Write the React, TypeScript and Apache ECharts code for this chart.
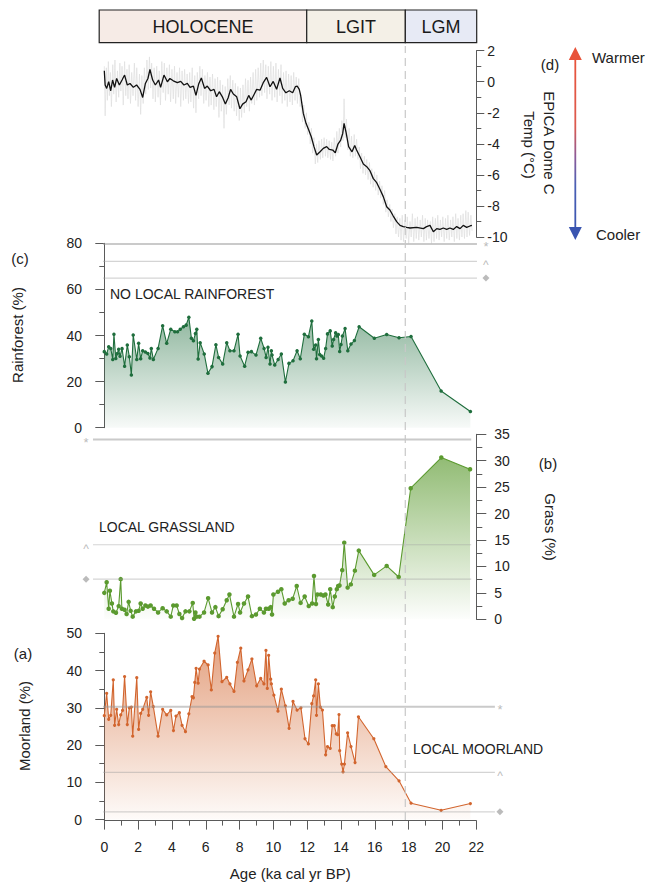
import React, { useEffect, useRef } from 'react';
import * as echarts from 'echarts';

const FONT = "'Liberation Sans', Arial, Helvetica, sans-serif";

// ---- Epoch bar ----
const epochNames = ['HOLOCENE', 'LGIT', 'LGM'];
const epochBounds = [-0.3, 11.97, 17.8, 22.02];
const epochColors = ['#f6ebe6', '#f4f0e7', '#e7eaf5'];
const lgmBoundary = 17.8;

// ---- (d) EPICA Dome C temperature: smoothed curve [age ka, °C] ----
const epicaSmooth: [number, number][] = [
  [0.0, 0.71], [0.05, -0.21], [0.14, -0.43], [0.26, 0], [0.38, -0.58], [0.49, 0.11], [0.61, -0.36], [0.73, 0.21],
  [0.89, -0.21], [1.05, 0.11], [1.2, 0.43], [1.36, -0.21], [1.52, -0.11], [1.72, -0.36], [1.91, -0.21], [2.11, -0.49],
  [2.27, -1.01], [2.43, -0.11], [2.58, 0.21], [2.7, 0.79], [2.86, 0.11], [3.02, -0.21], [3.21, 0.11], [3.33, -0.36],
  [3.53, 0.43], [3.73, 0], [3.88, 0.21], [4.08, 0.06], [4.32, -0.06], [4.52, 0.02], [4.71, -0.21], [4.91, -0.11],
  [5.07, -0.36], [5.27, -0.28], [5.42, -0.88], [5.58, -0.15], [5.74, 0.24], [5.93, -0.43], [6.09, -0.28], [6.29, -0.58],
  [6.49, -0.49], [6.64, -0.97], [6.8, -0.64], [7.0, -1.01], [7.16, -1.44], [7.32, -1.05], [7.47, -0.49], [7.63, -0.79],
  [7.83, -0.97], [8.02, -1.74], [8.18, -1.44], [8.38, -1.29], [8.54, -0.88], [8.69, -1.18], [8.85, -0.84], [9.01, -0.49],
  [9.21, -0.54], [9.4, -0.06], [9.6, 0.28], [9.8, -0.32], [9.99, 0.02], [10.19, -0.49], [10.39, 0.24], [10.55, -0.43],
  [10.74, -0.71], [10.94, -0.58], [11.14, -0.71], [11.3, -0.32], [11.41, -0.28], [11.53, -0.49], [11.61, -0.86],
  [11.77, -2.04], [11.93, -2.68], [12.09, -3.11], [12.24, -3.54], [12.4, -4.18], [12.56, -4.72], [12.76, -4.51],
  [12.95, -4.29], [13.15, -4.18], [13.31, -4.36], [13.51, -4.4], [13.66, -4.57], [13.82, -4.01], [13.98, -3.76],
  [14.1, -3.33], [14.18, -2.68], [14.29, -3.22], [14.45, -4.18], [14.65, -4.51], [14.81, -4.1], [14.92, -4.4],
  [15.12, -4.83], [15.32, -5.3], [15.52, -5.47], [15.71, -5.73], [15.91, -6.24], [16.11, -6.5], [16.3, -6.93],
  [16.5, -7.4], [16.7, -8.05], [16.89, -8.26], [17.09, -8.65], [17.29, -9.01], [17.49, -9.25], [17.68, -9.33],
  [17.88, -9.38], [18.08, -9.42], [18.47, -9.38], [18.87, -9.46], [19.06, -9.33], [19.26, -9.25], [19.46, -9.66],
  [19.66, -9.46], [19.85, -9.51], [20.05, -9.42], [20.25, -9.51], [20.44, -9.42], [20.64, -9.51], [20.84, -9.33],
  [21.04, -9.46], [21.23, -9.25], [21.43, -9.38], [21.63, -9.29], [21.74, -9.25],
];

// ---- (d) EPICA raw (grey, high frequency) [age ka, °C] ----
const epicaRaw: [number, number][] = [
  [0.0, 1.0], [0.05, -2.2], [0.12, 0.9], [0.18, -1.2], [0.24, 1.3], [0.3, -0.9], [0.36, 0.6], [0.42, -1.6], [0.5, 1.1], [0.56, -0.8],
  [0.63, 1.4], [0.7, -1.3], [0.78, 0.7], [0.85, -1.0], [0.92, 1.2], [0.98, -0.6], [1.05, 1.0], [1.12, -1.5], [1.2, 1.3], [1.27, -0.9],
  [1.34, 0.8], [1.4, -1.1], [1.47, 1.1], [1.55, -1.4], [1.62, 0.6], [1.7, -0.9], [1.78, 1.2], [1.85, -1.2], [1.92, 0.9], [2.0, -1.6],
  [2.08, 0.5], [2.15, -2.1], [2.22, 0.4], [2.3, -1.4], [2.37, 0.9], [2.45, -0.8], [2.52, 1.4], [2.6, -0.5], [2.67, 1.6], [2.74, -0.4],
  [2.8, 1.2], [2.88, -1.1], [2.95, 0.9], [3.02, -1.3], [3.1, 1.0], [3.18, -1.0], [3.25, 0.7], [3.32, -1.5], [3.4, 1.3], [3.48, -0.7],
  [3.55, 1.2], [3.62, -1.2], [3.7, 0.9], [3.78, -0.8], [3.85, 1.1], [3.92, -1.3], [4.0, 0.8], [4.08, -1.1], [4.15, 1.0], [4.22, -1.4],
  [4.3, 0.6], [4.38, -1.0], [4.45, 0.9], [4.52, -1.6], [4.6, 0.7], [4.68, -1.2], [4.75, 0.8], [4.82, -1.1], [4.9, 0.5], [4.98, -1.4],
  [5.05, 0.6], [5.12, -1.3], [5.2, 0.9], [5.28, -1.7], [5.35, 0.4], [5.42, -2.0], [5.5, 0.6], [5.58, -1.1], [5.65, 1.0], [5.72, -0.9],
  [5.8, 0.8], [5.88, -1.4], [5.95, 0.4], [6.02, -1.2], [6.1, 0.6], [6.18, -1.6], [6.25, 0.3], [6.32, -1.5], [6.4, 0.5], [6.48, -1.8],
  [6.55, 0.2], [6.62, -1.6], [6.7, 0.3], [6.78, -2.3], [6.85, 0.1], [6.92, -1.9], [7.0, -0.2], [7.08, -3.0], [7.15, -0.3], [7.22, -2.1],
  [7.3, 0.2], [7.38, -1.5], [7.45, 0.4], [7.52, -1.7], [7.6, 0.1], [7.68, -1.9], [7.75, -0.1], [7.82, -2.2], [7.9, -0.3], [7.98, -2.5],
  [8.05, -0.4], [8.12, -2.3], [8.2, -0.2], [8.28, -2.0], [8.35, 0.2], [8.42, -1.6], [8.5, 0.1], [8.58, -1.9], [8.65, 0.3], [8.72, -1.4],
  [8.8, 0.6], [8.88, -1.5], [8.95, 0.8], [9.02, -1.2], [9.1, 0.9], [9.18, -1.0], [9.25, 1.2], [9.32, -0.9], [9.4, 1.4], [9.48, -0.7],
  [9.55, 1.1], [9.62, -1.1], [9.7, 1.0], [9.78, -0.8], [9.85, 1.3], [9.92, -1.2], [10.0, 1.0], [10.08, -1.0], [10.15, 1.2], [10.22, -1.3],
  [10.3, 0.8], [10.38, -0.9], [10.45, 1.1], [10.52, -1.4], [10.6, 0.6], [10.68, -1.2], [10.75, 0.7], [10.82, -1.6], [10.9, 0.5], [10.98, -1.3],
  [11.05, 0.4], [11.12, -1.5], [11.2, 0.6], [11.28, -1.2], [11.35, 0.3], [11.42, -1.4], [11.5, 0.2], [11.58, -1.6],
  [11.65, -1.0], [11.72, -2.6], [11.8, -1.5], [11.88, -3.0], [11.95, -2.0], [12.02, -3.4], [12.1, -2.6], [12.18, -4.0], [12.25, -3.0], [12.32, -4.6],
  [12.4, -3.6], [12.48, -5.3], [12.55, -4.0], [12.62, -5.2], [12.7, -3.8], [12.78, -5.0], [12.85, -3.7], [12.92, -4.9], [13.0, -3.6], [13.08, -4.8],
  [13.15, -3.7], [13.22, -4.9], [13.3, -3.8], [13.38, -5.0], [13.45, -3.9], [13.52, -5.1], [13.6, -3.6], [13.68, -4.8], [13.75, -3.2], [13.82, -4.6],
  [13.9, -3.0], [13.98, -4.2], [14.05, -2.5], [14.12, -3.8], [14.18, -1.1], [14.25, -3.6], [14.32, -2.4], [14.4, -4.4], [14.48, -3.0], [14.55, -4.8],
  [14.62, -3.5], [14.7, -4.9], [14.78, -3.4], [14.85, -4.8], [14.92, -3.7], [15.0, -5.0], [15.08, -4.2], [15.15, -5.6], [15.22, -4.6], [15.3, -5.9],
  [15.38, -4.8], [15.45, -6.0], [15.52, -5.0], [15.6, -6.3], [15.68, -5.2], [15.75, -6.6], [15.82, -5.6], [15.9, -6.8], [15.98, -5.8], [16.05, -7.0],
  [16.12, -6.0], [16.2, -7.3], [16.28, -6.4], [16.35, -7.5], [16.42, -6.7], [16.5, -7.9], [16.58, -7.0], [16.65, -8.4], [16.72, -7.6], [16.8, -8.7],
  [16.88, -7.9], [16.95, -9.0], [17.02, -8.2], [17.1, -9.4], [17.18, -8.5], [17.25, -9.8], [17.32, -8.7], [17.4, -10.0],
  [17.48, -8.8], [17.55, -10.2], [17.62, -8.6], [17.7, -10.3], [17.78, -8.9], [17.85, -10.1], [17.92, -8.7], [18.0, -10.4], [18.08, -9.0], [18.15, -10.0],
  [18.22, -8.5], [18.3, -10.3], [18.38, -8.8], [18.45, -10.1], [18.52, -8.7], [18.6, -10.2], [18.68, -8.9], [18.75, -10.0], [18.82, -8.6], [18.9, -10.3],
  [18.98, -8.8], [19.05, -10.2], [19.12, -8.9], [19.2, -10.1], [19.28, -9.0], [19.35, -10.4], [19.42, -8.7], [19.5, -10.3], [19.58, -8.8], [19.65, -10.1],
  [19.72, -8.6], [19.8, -10.2], [19.88, -8.9], [19.95, -10.0], [20.02, -8.7], [20.1, -10.3], [20.18, -8.8], [20.25, -10.1], [20.32, -8.6], [20.4, -10.2],
  [20.48, -8.9], [20.55, -10.0], [20.62, -8.7], [20.7, -10.3], [20.78, -8.5], [20.85, -10.1], [20.92, -8.8], [21.0, -10.2], [21.08, -8.6], [21.15, -10.0],
  [21.22, -8.5], [21.3, -10.1], [21.38, -8.3], [21.45, -10.0], [21.52, -8.4], [21.6, -9.9], [21.68, -8.6], [21.75, -9.6],
];

// ---- (c) Rainforest % ----
const rainforest: [number, number][] = [
  [0.0, 33.0], [0.14, 32.0], [0.26, 35.1], [0.38, 34.4], [0.5, 29.6], [0.57, 40.5], [0.68, 30.0], [0.77, 32.2], [0.85, 34.0], [0.93, 31.0],
  [1.05, 34.3], [1.2, 26.7], [1.36, 35.9], [1.48, 30.8], [1.6, 22.9], [1.71, 40.2], [1.92, 29.6], [2.03, 36.6], [2.15, 29.9], [2.27, 33.4],
  [2.43, 32.8], [2.58, 32.2], [2.7, 30.2], [2.78, 34.4], [2.9, 29.6], [3.18, 34.4], [3.45, 44.2], [3.69, 36.6], [3.93, 42.7], [4.17, 41.6],
  [4.33, 41.6], [4.49, 42.7], [4.68, 43.8], [4.84, 44.5], [5.0, 47.9], [5.15, 38.8], [5.27, 37.7], [5.39, 40.9], [5.47, 42.7], [5.55, 29.8],
  [5.67, 36.9], [5.91, 32.0], [6.13, 23.6], [6.37, 26.5], [6.6, 36.0], [6.76, 30.5], [7.0, 27.6], [7.24, 36.9], [7.43, 33.4], [7.67, 33.4],
  [7.91, 40.5], [8.03, 31.1], [8.3, 26.7], [8.5, 32.7], [8.7, 33.0], [8.97, 31.5], [9.25, 38.8], [9.45, 34.4], [9.57, 30.5], [9.68, 34.9],
  [9.8, 27.6], [9.88, 33.4], [9.92, 31.5], [10.08, 27.2], [10.28, 29.6], [10.47, 32.0], [10.71, 19.8], [10.92, 27.9], [11.16, 29.0], [11.4, 33.4],
  [11.59, 29.9], [11.83, 40.5], [12.07, 39.5], [12.27, 46.3], [12.38, 34.0], [12.5, 35.9], [12.55, 29.9], [12.66, 38.3], [12.74, 31.8], [12.85, 31.1],
  [12.97, 30.1], [13.09, 34.4], [13.2, 40.7], [13.36, 42.0], [13.48, 35.4], [13.56, 38.3], [13.68, 41.2], [13.76, 39.8], [13.84, 40.4], [13.92, 33.1],
  [14.0, 36.1], [14.08, 39.8], [14.24, 43.0], [14.4, 33.4], [14.59, 36.3], [14.79, 37.8], [15.07, 43.8], [15.97, 38.8], [16.7, 40.4], [17.43, 39.0],
  [18.14, 39.6], [19.92, 15.9], [21.65, 7.0],
];

// ---- (b) Grass % ----
const grass: [number, number][] = [
  [0.0, 5.0], [0.14, 7.0], [0.26, 2.0], [0.33, 5.4], [0.45, 3.0], [0.53, 1.5], [0.69, 1.25], [0.85, 2.5], [0.97, 7.6], [1.04, 2.0],
  [1.2, 1.8], [1.32, 1.0], [1.44, 3.3], [1.56, 1.6], [1.68, 0.5], [1.87, 1.5], [2.03, 1.6], [2.15, 3.0], [2.27, 2.0], [2.43, 2.6],
  [2.58, 2.4], [2.74, 2.6], [2.94, 2.0], [3.18, 1.3], [3.45, 2.1], [3.69, 1.5], [3.93, 0.5], [4.08, 2.6], [4.28, 2.6], [4.44, 1.0],
  [4.6, 0.25], [4.8, 1.5], [5.03, 1.5], [5.23, 3.1], [5.31, 0.1], [5.39, 1.3], [5.47, 0.5], [5.63, 0.5], [5.9, 1.3], [6.14, 4.0],
  [6.37, 1.3], [6.57, 2.3], [6.76, 0.6], [7.0, 1.9], [7.24, 3.6], [7.4, 4.7], [7.67, 0.5], [7.91, 2.9], [8.03, 1.3], [8.26, 3.0],
  [8.5, 4.3], [8.73, 0.6], [8.97, 0.9], [9.2, 2.0], [9.44, 1.3], [9.56, 2.0], [9.72, 2.0], [9.84, 2.3], [9.92, 0.9], [10.0, 4.7],
  [10.27, 5.2], [10.47, 5.7], [10.67, 3.0], [10.9, 3.6], [11.14, 3.9], [11.38, 6.3], [11.61, 3.1], [11.85, 4.3], [12.09, 2.5], [12.29, 3.0],
  [12.4, 8.2], [12.52, 2.9], [12.6, 4.7], [12.8, 4.7], [12.96, 4.5], [13.08, 4.7], [13.24, 2.8], [13.36, 5.7], [13.51, 2.3], [13.63, 4.3],
  [13.75, 5.7], [13.83, 6.3], [13.91, 6.4], [14.07, 9.3], [14.19, 14.5], [14.39, 6.0], [14.58, 6.6], [14.82, 9.2], [15.05, 13.0], [15.96, 8.4],
  [16.7, 10.1], [17.41, 8.0], [18.12, 24.8], [19.93, 30.6], [21.63, 28.4],
];

// ---- (a) Moorland % ----
const moorland: [number, number][] = [
  [0.0, 27.9], [0.14, 33.9], [0.26, 26.9], [0.38, 28.0], [0.53, 37.5], [0.61, 25.3], [0.73, 29.6], [0.85, 25.5], [0.97, 28.1], [1.08, 29.3],
  [1.2, 38.4], [1.36, 25.5], [1.48, 30.0], [1.6, 30.2], [1.68, 22.4], [1.92, 38.1], [2.03, 24.2], [2.15, 28.5], [2.27, 29.6], [2.51, 32.8],
  [2.62, 28.0], [2.74, 34.3], [2.9, 30.3], [3.18, 22.4], [3.45, 29.6], [3.69, 28.1], [3.93, 29.3], [4.09, 23.9], [4.24, 27.8], [4.44, 28.7],
  [4.6, 25.3], [4.8, 23.6], [5.0, 28.4], [5.19, 33.0], [5.27, 32.7], [5.35, 36.8], [5.43, 40.6], [5.55, 36.6], [5.63, 40.4], [5.9, 42.5],
  [6.14, 41.5], [6.33, 34.8], [6.53, 44.7], [6.73, 49.2], [6.96, 37.0], [7.24, 38.2], [7.43, 36.4], [7.67, 34.4], [7.87, 42.2], [8.07, 46.0],
  [8.26, 37.2], [8.5, 40.2], [8.73, 43.1], [9.01, 35.9], [9.25, 37.9], [9.44, 36.4], [9.56, 45.4], [9.64, 35.2], [9.72, 44.1], [9.84, 37.7],
  [9.88, 36.4], [10.03, 33.4], [10.27, 29.1], [10.47, 35.0], [10.71, 30.5], [10.93, 24.5], [11.16, 31.7], [11.4, 29.4], [11.63, 30.0], [11.87, 21.7],
  [12.07, 20.3], [12.27, 31.1], [12.38, 33.2], [12.5, 37.5], [12.55, 28.0], [12.66, 36.4], [12.78, 30.2], [12.9, 29.4], [13.09, 17.4], [13.2, 19.6],
  [13.36, 19.1], [13.48, 25.2], [13.6, 25.2], [13.72, 23.0], [13.8, 22.8], [13.88, 28.2], [13.92, 18.5], [14.04, 14.9], [14.12, 12.8], [14.2, 14.9],
  [14.39, 23.3], [14.59, 19.6], [14.83, 15.3], [15.03, 27.6], [15.94, 21.7], [16.65, 14.2], [17.43, 10.4], [18.14, 4.4], [19.92, 2.5], [21.65, 4.3],
];

// ---- Reference threshold lines (grey) ----
const refGlyphs = ['*', '^', '♦'];
const rainRefValues = [79.7, 72.2, 64.9];
const rainRefSpan = [-0.08, 22.04];
const rainRefMarkerAge = 22.57;
const grassRefValues = [34.0, 14.1, 7.6];
const grassRefSpan = [-0.67, 21.7];
const grassRefMarkerAge = -1.08;
const moorRefValues = [30.3, 12.7, 2.1];
const moorRefSpan = [-0.08, 23.1];
const moorRefMarkerAge = 23.4;

// ---- Axes ----
const ageMin = 0, ageMax = 22, ageStep = 2;
const tempMin = -10, tempMax = 2, tempStep = 2;
const rainMax = 80, rainStep = 20;
const grassMax = 35, grassStep = 5;
const moorMax = 50, moorStep = 10;

const AXIS_COLOR = '#5a5a5a';
const LABEL_COLOR = '#222';

function refSeries(axisIdx: number, values: number[], span: number[], markerAge: number): any[] {
  const out: any[] = values.map((v, i) => ({
    type: 'line',
    xAxisIndex: axisIdx,
    yAxisIndex: axisIdx,
    data: [[span[0], v], [span[1], v]],
    symbol: 'none',
    silent: true,
    z: 6,
    lineStyle: {
      color: i === 0 ? 'rgba(150,150,150,0.5)' : 'rgba(160,160,160,0.45)',
      width: i === 0 ? 2 : 1.2,
    },
  }));
  out.push({
    type: 'scatter',
    xAxisIndex: axisIdx,
    yAxisIndex: axisIdx,
    silent: true,
    z: 7,
    data: values.map((v, i) => ({
      value: [markerAge, v],
      symbol: i === 2 ? 'diamond' : 'circle',
      symbolSize: i === 2 ? 7 : 1,
      itemStyle: { color: i === 2 ? '#aaaaaa' : 'rgba(0,0,0,0)' },
      label: {
        show: i !== 2,
        formatter: refGlyphs[i],
        position: 'inside',
        color: '#aaaaaa',
        fontSize: i === 0 ? 13 : 12,
        fontFamily: FONT,
        offset: [0, i === 0 ? 3 : 4],
      },
    })),
  });
  return out;
}

function leftYAxis(gi: number, max: number, step: number) {
  return {
    type: 'value', gridIndex: gi, position: 'left', offset: 4.3, min: 0, max, interval: step,
    axisLine: { show: true, lineStyle: { color: AXIS_COLOR, width: 1 } },
    axisTick: { show: true, length: 9, inside: false, lineStyle: { color: AXIS_COLOR } },
    minorTick: { show: true, splitNumber: 2, length: 5, lineStyle: { color: AXIS_COLOR } },
    axisLabel: { show: true, margin: 18, fontSize: 14, color: LABEL_COLOR, fontFamily: FONT },
    splitLine: { show: false },
    minorSplitLine: { show: false },
  };
}

function rightYAxis(gi: number, min: number, max: number, step: number, margin: number, tickLen: number) {
  return {
    type: 'value', gridIndex: gi, position: 'right', offset: 0, min, max, interval: step,
    axisLine: { show: true, onZero: false, lineStyle: { color: AXIS_COLOR, width: 1 } },
    axisTick: { show: true, length: tickLen, inside: false, lineStyle: { color: AXIS_COLOR } },
    minorTick: { show: true, splitNumber: 2, length: Math.round(tickLen * 0.6), lineStyle: { color: AXIS_COLOR } },
    axisLabel: { show: true, margin, fontSize: 14, color: LABEL_COLOR, fontFamily: FONT },
    splitLine: { show: false },
    minorSplitLine: { show: false },
  };
}

function hiddenAxis(gi: number, min: number, max: number) {
  return { type: 'value', gridIndex: gi, min, max, show: false, splitLine: { show: false } };
}

function grad(r: number, g: number, b: number, a0: number, a1: number) {
  return new echarts.graphic.LinearGradient(0, 0, 0, 1, [
    { offset: 0, color: `rgba(${r},${g},${b},${a0})` },
    { offset: 1, color: `rgba(${r},${g},${b},${a1})` },
  ]);
}

function buildOption(): any {
  const MAIN_L = 104.3, MAIN_R = 169.7;
  const OV_L = 70.5, OV_R = 135.9;
  const grids = [
    { left: 99.2, right: 169.3, top: 10, height: 32.7 },      // 0 epoch bar
    { left: MAIN_L, right: MAIN_R, top: 50.7, height: 186.3 }, // 1 (d)
    { left: MAIN_L, right: MAIN_R, top: 243.3, height: 184.4 },// 2 (c)
    { left: OV_L, right: OV_R, top: 243.3, height: 184.4 },    // 3 (c) overlay
    { left: MAIN_L, right: MAIN_R, top: 434.3, height: 185 },  // 4 (b)
    { left: OV_L, right: OV_R, top: 434.3, height: 185 },      // 5 (b) overlay
    { left: MAIN_L, right: MAIN_R, top: 633.3, height: 186.3 },// 6 (a)
    { left: OV_L, right: OV_R, top: 633.3, height: 186.3 },    // 7 (a) overlay
    { left: MAIN_L, right: MAIN_R, top: 46, height: 774 },     // 8 dashed boundary
  ];

  const xAxes: any[] = [
    hiddenAxis(0, epochBounds[0], epochBounds[epochBounds.length - 1]),
    hiddenAxis(1, ageMin, ageMax),
    hiddenAxis(2, ageMin, ageMax),
    hiddenAxis(3, -2, 24),
    hiddenAxis(4, ageMin, ageMax),
    hiddenAxis(5, -2, 24),
    {
      type: 'value', gridIndex: 6, position: 'bottom', offset: 1, min: ageMin, max: ageMax, interval: ageStep,
      axisLine: { show: true, onZero: false, lineStyle: { color: AXIS_COLOR, width: 1 } },
      axisTick: { show: true, length: 9, inside: false, lineStyle: { color: AXIS_COLOR } },
      minorTick: { show: true, splitNumber: 2, length: 5, lineStyle: { color: AXIS_COLOR } },
      axisLabel: { show: true, margin: 19, fontSize: 14, color: LABEL_COLOR, fontFamily: FONT },
      splitLine: { show: false },
      minorSplitLine: { show: false },
      name: 'Age (ka cal yr BP)',
      nameLocation: 'middle',
      nameGap: 45,
      nameTextStyle: { fontSize: 15, color: LABEL_COLOR, fontFamily: FONT },
    },
    hiddenAxis(7, -2, 24),
    hiddenAxis(8, ageMin, ageMax),
  ];

  const yAxes: any[] = [
    hiddenAxis(0, 0, 1),
    rightYAxis(1, tempMin, tempMax, tempStep, 11, 8),
    leftYAxis(2, rainMax, rainStep),
    hiddenAxis(3, 0, rainMax),
    rightYAxis(4, 0, grassMax, grassStep, 18, 10),
    hiddenAxis(5, 0, grassMax),
    leftYAxis(6, moorMax, moorStep),
    hiddenAxis(7, 0, moorMax),
    hiddenAxis(8, 0, 1),
  ];

  const epochData = epochNames.map((_, i) => [epochBounds[i], epochBounds[i + 1], i]);

  const series: any[] = [
    {
      type: 'custom',
      xAxisIndex: 0,
      yAxisIndex: 0,
      data: epochData,
      silent: true,
      renderItem: (params: any, api: any) => {
        const s = api.value(0), e = api.value(1), i = api.value(2);
        const p0 = api.coord([s, 1]);
        const p1 = api.coord([e, 0]);
        return {
          type: 'group',
          children: [
            {
              type: 'rect',
              shape: { x: p0[0], y: p0[1], width: p1[0] - p0[0], height: p1[1] - p0[1] },
              style: { fill: epochColors[i], stroke: '#222', lineWidth: 1.2 },
            },
            {
              type: 'text',
              x: (p0[0] + p1[0]) / 2,
              y: (p0[1] + p1[1]) / 2 + 1,
              style: {
                text: epochNames[i], align: 'center', verticalAlign: 'middle',
                textAlign: 'center', textVerticalAlign: 'middle',
                fontSize: 18, fontFamily: FONT, fill: '#1a1a1a',
              },
            },
          ],
        };
      },
    },
    // (d) EPICA raw + smoothed
    {
      type: 'line', xAxisIndex: 1, yAxisIndex: 1, data: epicaRaw, symbol: 'none', clip: false,
      lineStyle: { color: '#dedede', width: 0.7 }, z: 2, silent: true,
    },
    {
      type: 'line', xAxisIndex: 1, yAxisIndex: 1, data: epicaSmooth, symbol: 'none',
      lineStyle: { color: '#111111', width: 1.3 }, z: 3, silent: true,
    },
    // (c) Rainforest
    {
      type: 'line', xAxisIndex: 2, yAxisIndex: 2, data: rainforest, symbol: 'circle', symbolSize: 3.5,
      itemStyle: { color: '#1f6e3d' }, lineStyle: { color: '#1f6e3d', width: 1.1 },
      areaStyle: { color: grad(31, 110, 61, 0.7, 0.05) }, z: 3, silent: true,
    },
    ...refSeries(3, rainRefValues, rainRefSpan, rainRefMarkerAge),
    // (b) Grass
    {
      type: 'line', xAxisIndex: 4, yAxisIndex: 4, data: grass, symbol: 'circle', symbolSize: 4.5,
      itemStyle: { color: '#5b9a2f' }, lineStyle: { color: '#5b9a2f', width: 1.1 },
      areaStyle: { color: grad(91, 154, 47, 0.95, 0.02) }, z: 3, silent: true,
    },
    ...refSeries(5, grassRefValues, grassRefSpan, grassRefMarkerAge),
    // (a) Moorland
    {
      type: 'line', xAxisIndex: 6, yAxisIndex: 6, data: moorland, symbol: 'circle', symbolSize: 3.2,
      itemStyle: { color: '#d2652e' }, lineStyle: { color: '#d2652e', width: 1.1 },
      areaStyle: { color: grad(210, 101, 46, 0.88, 0.04) }, z: 3, silent: true,
    },
    ...refSeries(7, moorRefValues, moorRefSpan, moorRefMarkerAge),
    // LGM boundary dashed line
    {
      type: 'line', xAxisIndex: 8, yAxisIndex: 8, data: [[lgmBoundary, 0], [lgmBoundary, 1]], symbol: 'none',
      lineStyle: { color: '#c8c8c8', width: 1.2, type: [8, 5] }, z: 8, silent: true,
    },
  ];

  const txt = (text: string, x: number, y: number, opts: any = {}) => ({
    type: 'text',
    x, y,
    rotation: opts.rotation || 0,
    silent: true,
    style: {
      text,
      fontSize: opts.fontSize || 15,
      fontFamily: FONT,
      fill: LABEL_COLOR,
      align: opts.align || 'center',
      textAlign: opts.align || 'center',
      verticalAlign: 'middle',
      textVerticalAlign: 'middle',
    },
  });

  const arrowX = 575.3;
  const graphic: any[] = [
    txt('(d)', 550, 64),
    txt('EPICA Dome C', 549, 143, { rotation: -Math.PI / 2 }),
    txt('Temp (°C)', 529, 145, { rotation: -Math.PI / 2 }),
    txt('Warmer', 592, 57, { align: 'left' }),
    txt('Cooler', 596, 234, { align: 'left' }),
    txt('(c)', 20, 258),
    txt('Rainforest (%)', 17, 335, { rotation: Math.PI / 2 }),
    txt('NO LOCAL RAINFOREST', 110, 294, { align: 'left', fontSize: 14 }),
    txt('(b)', 548, 463),
    txt('Grass (%)', 550, 527, { rotation: -Math.PI / 2 }),
    txt('LOCAL GRASSLAND', 99, 527, { align: 'left', fontSize: 14 }),
    txt('(a)', 23, 653),
    txt('Moorland (%)', 24, 726, { rotation: Math.PI / 2 }),
    txt('LOCAL MOORLAND', 413, 749, { align: 'left', fontSize: 14 }),
    {
      type: 'rect',
      silent: true,
      shape: { x: arrowX - 0.9, y: 58, width: 1.8, height: 170 },
      style: {
        fill: new echarts.graphic.LinearGradient(0, 0, 0, 1, [
          { offset: 0, color: '#e8533a' },
          { offset: 0.4, color: '#dc5a4e' },
          { offset: 0.58, color: '#8c5a98' },
          { offset: 0.75, color: '#4a5fb4' },
          { offset: 1, color: '#3a55b0' },
        ]),
      },
    },
    {
      type: 'polygon', silent: true,
      shape: { points: [[arrowX, 47], [arrowX - 6.5, 60], [arrowX + 6.5, 60]] },
      style: { fill: '#e8533a' },
    },
    {
      type: 'polygon', silent: true,
      shape: { points: [[arrowX, 240], [arrowX - 6.5, 227], [arrowX + 6.5, 227]] },
      style: { fill: '#3a55b0' },
    },
  ];

  return {
    animation: false,
    backgroundColor: '#ffffff',
    grid: grids,
    xAxis: xAxes,
    yAxis: yAxes,
    series,
    graphic,
    tooltip: { show: false },
  };
}

export default function App() {
  const ref = useRef<HTMLDivElement>(null);
  useEffect(() => {
    document.body.style.margin = '0';
    document.body.style.padding = '0';
    if (!ref.current) return;
    const chart = echarts.init(ref.current, undefined, { renderer: 'svg', width: 646, height: 883 });
    chart.setOption(buildOption());
    return () => chart.dispose();
  }, []);
  return (
    <div style={{ position: 'fixed', left: 0, top: 0, width: 646, height: 883, margin: 0, overflow: 'hidden' }}>
      <div ref={ref} style={{ width: 646, height: 883, background: '#fff' }} />
    </div>
  );
}
